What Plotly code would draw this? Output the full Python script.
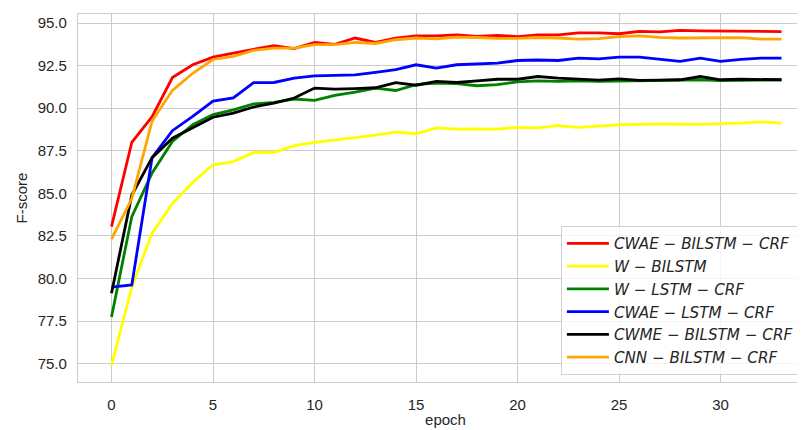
import plotly.graph_objects as go

epochs = list(range(34))

cwae_bilstm_crf = [83.05, 88.0, 89.5, 91.8, 92.55, 93.0, 93.24, 93.47, 93.67, 93.5, 93.86, 93.75,
                   94.12, 93.86, 94.12, 94.25, 94.25, 94.31, 94.22, 94.28, 94.2, 94.3, 94.3, 94.42,
                   94.42, 94.37, 94.51, 94.48, 94.57, 94.54, 94.52, 94.52, 94.52, 94.5]
w_bilstm = [74.9, 79.5, 82.67, 84.4, 85.65, 86.68, 86.87, 87.4, 87.4, 87.8, 87.99, 88.12,
            88.28, 88.42, 88.6, 88.5, 88.85, 88.77, 88.78, 88.77, 88.88, 88.85, 88.98, 88.88,
            88.95, 89.03, 89.05, 89.08, 89.06, 89.05, 89.1, 89.12, 89.2, 89.12]
w_lstm_crf = [77.75, 83.64, 86.2, 88.05, 89.03, 89.63, 89.9, 90.25, 90.34, 90.54, 90.46, 90.75,
              90.95, 91.18, 91.04, 91.38, 91.48, 91.44, 91.32, 91.38, 91.55, 91.6, 91.57, 91.6,
              91.58, 91.6, 91.6, 91.6, 91.62, 91.67, 91.62, 91.62, 91.65, 91.67]
cwae_lstm_crf = [79.5, 79.63, 87.1, 88.68, 89.52, 90.42, 90.6, 91.5, 91.51, 91.77, 91.9, 91.95,
                 91.96, 92.1, 92.26, 92.55, 92.35, 92.55, 92.62, 92.65, 92.8, 92.83, 92.8, 92.94,
                 92.9, 93.0, 93.0, 92.87, 92.75, 92.94, 92.75, 92.87, 92.94, 92.94]
cwme_bilstm_crf = [79.14, 84.9, 87.1, 88.24, 88.85, 89.47, 89.71, 90.07, 90.3, 90.6, 91.18, 91.12,
                   91.15, 91.2, 91.5, 91.35, 91.57, 91.51, 91.6, 91.7, 91.7, 91.86, 91.77, 91.7,
                   91.65, 91.72, 91.63, 91.65, 91.67, 91.86, 91.67, 91.7, 91.7, 91.67]
cnn_bilstm_crf = [82.32, 84.7, 89.25, 91.05, 92.05, 92.86, 93.04, 93.39, 93.53, 93.53, 93.73, 93.73,
                  93.86, 93.8, 94.02, 94.12, 94.07, 94.17, 94.15, 94.1, 94.1, 94.15, 94.12, 94.05,
                  94.08, 94.2, 94.25, 94.16, 94.12, 94.12, 94.12, 94.14, 94.05, 94.05]

series_names = ["CWAE − BILSTM − CRF", "W − BILSTM", "W − LSTM − CRF",
                "CWAE − LSTM − CRF", "CWME − BILSTM − CRF", "CNN − BILSTM − CRF"]
series_values = [cwae_bilstm_crf, w_bilstm, w_lstm_crf, cwae_lstm_crf, cwme_bilstm_crf, cnn_bilstm_crf]
series_colors = ["#ff0000", "#ffff00", "#008000", "#0000ff", "#000000", "#ffa500"]

y_ticks = [75.0, 77.5, 80.0, 82.5, 85.0, 87.5, 90.0, 92.5, 95.0]
x_ticks = [0, 5, 10, 15, 20, 25, 30]

fig = go.Figure()
for name, vals, col in zip(series_names, series_values, series_colors):
    fig.add_trace(go.Scatter(x=epochs, y=vals, mode="lines", name=name,
                             line=dict(color=col, width=2.8)))

tick_font = dict(family="Liberation Sans, Arial, sans-serif", size=15, color="#262626")

fig.update_layout(
    width=805, height=430,
    margin=dict(l=70, r=0, t=6, b=56),
    paper_bgcolor="white", plot_bgcolor="white",
    showlegend=True,
    legend=dict(
        x=0.657, y=0.424, xanchor="left", yanchor="top",
        bgcolor="rgba(255,255,255,0.8)", bordercolor="#d0d0d0", borderwidth=1,
        font=dict(family="DejaVu Sans", size=15.2, color="#262626", style="italic"),
        itemwidth=42,
    ),
    xaxis=dict(
        range=[-1.65, 34.55], tickvals=x_ticks, ticktext=[str(t) for t in x_ticks],
        showgrid=True, gridcolor="#cccccc", gridwidth=1.3, zeroline=False,
        showline=True, linecolor="#cccccc", linewidth=1.3, mirror=True,
        ticks="outside", ticklen=9, tickcolor="rgba(0,0,0,0)",
        tickfont=tick_font, automargin=False,
        title=dict(text="epoch", font=tick_font, standoff=2),
    ),
    yaxis=dict(
        range=[73.93, 95.53], tickvals=y_ticks, ticktext=[f"{t:.1f}" for t in y_ticks],
        showgrid=True, gridcolor="#cccccc", gridwidth=1.3, zeroline=False,
        showline=True, linecolor="#cccccc", linewidth=1.3, mirror=True,
        ticks="outside", ticklen=7, tickcolor="rgba(0,0,0,0)",
        tickfont=tick_font, automargin=False,
        title=dict(text="F-score", font=tick_font, standoff=6),
    ),
)

fig.write_html("out.html")
